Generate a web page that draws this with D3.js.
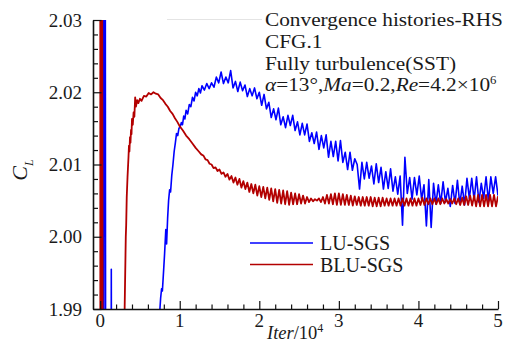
<!DOCTYPE html>
<html>
<head>
<meta charset="utf-8">
<script src="https://cdn.jsdelivr.net/npm/d3@7"></script>
<style>
  body { margin: 0; background: #fff; }
  text { font-family: "Liberation Serif", "Times New Roman", serif; fill: #1a1a1a; }
</style>
</head>
<body>
<div id="chart"></div>
<script>
// Data: [Iter/10^4, CL]
var xTicks = [0, 1, 2, 3, 4, 5];
var yTicks = [1.99, 2.00, 2.01, 2.02, 2.03];
var seriesNames = ["LU-SGS", "BLU-SGS"];

var luSgs = [
  [0.03,2.10],[0.04,1.95],[0.06,2.10],[0.07,1.96],[0.135,1.96],[0.14,1.9955],[0.145,1.96],[0.74,1.96],
  [0.748,1.9895],[0.76,1.9915],[0.772,1.9928],[0.782,1.9925],[0.80,1.9958],[0.81,1.9977],[0.825,2.0010],
  [0.835,1.9990],[0.848,2.0026],[0.86,2.0050],[0.873,2.0065],[0.885,2.0062],[0.90,2.0085],[0.915,2.0100],
  [0.93,2.0118],[0.945,2.0130],[0.96,2.0143],[0.975,2.0140],[0.99,2.0150],[1.005,2.0152],[1.02,2.0158],
  [1.035,2.0155],[1.05,2.0167],[1.065,2.0163],[1.08,2.0175],[1.10,2.0170],[1.12,2.0183],[1.14,2.0180],
  [1.16,2.0193],[1.18,2.0188],[1.20,2.0200],[1.22,2.0195],[1.24,2.0205],[1.26,2.0199],
  [1.28,2.0209],[1.31,2.0203],[1.34,2.0212],[1.37,2.0205],[1.40,2.0213],[1.43,2.0207],[1.46,2.0221],
  [1.49,2.0213],[1.52,2.0228],[1.55,2.0212],[1.58,2.0221],[1.61,2.0213],[1.64,2.0230],[1.67,2.0206],
  [1.70,2.0215],[1.73,2.0201],[1.76,2.0214],[1.79,2.0202],[1.82,2.0210],[1.85,2.0194],[1.88,2.0205],
  [1.91,2.0195],[1.94,2.0206],[1.97,2.0191],[2.00,2.0200],[2.03,2.0182],[2.06,2.0197],[2.09,2.0177],
  [2.12,2.0186],[2.15,2.0165],[2.18,2.0177],[2.21,2.0162],[2.24,2.0178],[2.27,2.0155],[2.30,2.0166],
  [2.33,2.0151],[2.36,2.0168],[2.39,2.0154],[2.42,2.0168],[2.45,2.0147],[2.48,2.0159],[2.51,2.0141],
  [2.54,2.0157],[2.57,2.0141],[2.60,2.0156],[2.63,2.0132],[2.66,2.0144],[2.69,2.0129],[2.72,2.0145],
  [2.75,2.0121],[2.78,2.0140],[2.81,2.0123],[2.84,2.0141],[2.87,2.0110],[2.90,2.0132],[2.93,2.0111],
  [2.96,2.0132],[2.99,2.0105],[3.02,2.0133],[3.05,2.0103],[3.08,2.0117],[3.11,2.0093],[3.14,2.0117],
  [3.17,2.0092],[3.20,2.0108],[3.23,2.0100],[3.26,2.0066],[3.29,2.0103],[3.32,2.0080],[3.35,2.0103],
  [3.38,2.0081],[3.41,2.0098],[3.44,2.0073],[3.47,2.0101],[3.50,2.0075],[3.53,2.0096],[3.56,2.0066],
  [3.59,2.0090],[3.62,2.0067],[3.65,2.0094],[3.68,2.0063],[3.71,2.0083],[3.74,2.0059],[3.77,2.0084],
  [3.80,2.0016],[3.83,2.0110],[3.86,2.0060],[3.89,2.0082],[3.92,2.0052],[3.95,2.0082],[3.98,2.0058],
  [4.01,2.0084],[4.04,2.0052],[4.07,2.0072],[4.10,2.0015],[4.13,2.0079],[4.16,2.0013],[4.19,2.0074],
  [4.22,2.0045],[4.25,2.0072],[4.28,2.0046],[4.31,2.0076],[4.34,2.0048],[4.37,2.0067],[4.40,2.0042],
  [4.43,2.0071],[4.46,2.0046],[4.49,2.0078],[4.52,2.0045],[4.55,2.0070],[4.58,2.0044],[4.61,2.0081],
  [4.64,2.0053],[4.67,2.0081],[4.70,2.0051],[4.73,2.0083],[4.76,2.0048],[4.79,2.0074],[4.82,2.0053],
  [4.85,2.0083],[4.88,2.0049],[4.91,2.0083],[4.94,2.0060],[4.97,2.0083],[5.00,2.0057]
];

var bluSgs = [
  [0,2.10],[0.003,1.95],[0.02,2.08],[0.03,1.9985],[0.032,1.96],[0.30,1.96],[0.307,1.9895],[0.322,2.0000],
  [0.327,2.0016],[0.334,2.0055],[0.344,2.0083],[0.356,2.0110],[0.362,2.0126],[0.368,2.0118],[0.375,2.0138],
  [0.381,2.0130],[0.388,2.0148],[0.394,2.0142],[0.40,2.0163],[0.41,2.0155],[0.42,2.0172],[0.43,2.0166],
  [0.44,2.0193],[0.45,2.0180],[0.465,2.0189],[0.48,2.0185],[0.50,2.0191],[0.52,2.0188],[0.55,2.0195],
  [0.58,2.0194],[0.61,2.0199],[0.64,2.0197],[0.67,2.0200],[0.70,2.0198],[0.73,2.0197],[0.76,2.0192],
  [0.79,2.0189],[0.82,2.0184],[0.85,2.0180],[0.88,2.0174],[0.91,2.0170],[0.94,2.0164],[0.97,2.0159],
  [1.00,2.0153],[1.04,2.0147],[1.08,2.0140],[1.12,2.0135],[1.16,2.0129],[1.20,2.0123],[1.24,2.0118],
  [1.27,2.0114],
  [1.300,2.0112],[1.325,2.0107],[1.350,2.0106],[1.375,2.0101],[1.400,2.0100],[1.425,2.0095],[1.450,2.0096],
  [1.475,2.0091],[1.500,2.0093],[1.525,2.0087],[1.550,2.0089],[1.575,2.0083],[1.600,2.0087],[1.625,2.0079],
  [1.650,2.0084],[1.675,2.0075],[1.700,2.0082],[1.725,2.0072],[1.750,2.0080],[1.775,2.0068],[1.800,2.0077],
  [1.825,2.0066],[1.850,2.0075],[1.875,2.0062],[1.900,2.0073],[1.925,2.0060],[1.950,2.0072],[1.975,2.0057],
  [2.000,2.0070],[2.025,2.0055],[2.050,2.0069],[2.075,2.0053],[2.100,2.0068],[2.125,2.0051],[2.150,2.0067],
  [2.175,2.0049],[2.200,2.0066],[2.225,2.0047],[2.250,2.0065],[2.275,2.0046],[2.300,2.0064],[2.325,2.0045],
  [2.350,2.0063],[2.375,2.0044],[2.400,2.0061],[2.425,2.0045],[2.450,2.0060],[2.475,2.0045],[2.500,2.0059],
  [2.525,2.0046],[2.550,2.0057],[2.575,2.0046],[2.600,2.0055],[2.625,2.0048],[2.650,2.0053],[2.675,2.0049],
  [2.700,2.0052],[2.725,2.0050],[2.750,2.0053],[2.775,2.0048],[2.800,2.0055],[2.825,2.0046],[2.850,2.0058],
  [2.875,2.0046],[2.900,2.0059],[2.925,2.0045],[2.950,2.0060],[2.975,2.0044],[3.000,2.0060],[3.025,2.0044],
  [3.050,2.0059],[3.075,2.0044],[3.100,2.0058],[3.125,2.0044],[3.150,2.0057],[3.175,2.0043],[3.200,2.0056],
  [3.225,2.0044],[3.250,2.0055],[3.275,2.0043],[3.300,2.0055],[3.325,2.0043],[3.350,2.0055],[3.375,2.0043],
  [3.400,2.0055],[3.425,2.0042],[3.450,2.0054],[3.475,2.0042],[3.500,2.0054],[3.525,2.0042],[3.550,2.0054],
  [3.575,2.0043],[3.600,2.0053],[3.625,2.0043],[3.650,2.0053],[3.675,2.0043],[3.700,2.0053],[3.725,2.0043],
  [3.750,2.0053],[3.775,2.0043],[3.800,2.0053],[3.825,2.0043],[3.850,2.0053],[3.875,2.0043],[3.900,2.0053],
  [3.925,2.0043],[3.950,2.0053],[3.975,2.0043],[4.000,2.0053],[4.025,2.0044],[4.050,2.0054],[4.075,2.0044],
  [4.100,2.0053],[4.125,2.0045],[4.150,2.0053],[4.175,2.0045],[4.200,2.0053],[4.225,2.0045],[4.250,2.0053],
  [4.275,2.0045],[4.300,2.0053],[4.325,2.0046],[4.350,2.0052],[4.375,2.0046],[4.400,2.0052],[4.425,2.0046],
  [4.450,2.0053],[4.475,2.0045],[4.500,2.0053],[4.525,2.0044],[4.550,2.0054],[4.575,2.0044],[4.600,2.0056],
  [4.625,2.0044],[4.650,2.0057],[4.675,2.0043],[4.700,2.0057],[4.725,2.0042],[4.750,2.0058],[4.775,2.0042],
  [4.800,2.0058],[4.825,2.0042],[4.850,2.0058],[4.875,2.0042],[4.900,2.0058],[4.925,2.0042],[4.950,2.0058],
  [4.975,2.0042],[5.000,2.0056]
];

var margin = {top: 20, right: 16, bottom: 35, left: 93};
var width = 514 - margin.left - margin.right;
var height = 344 - margin.top - margin.bottom;

var svg = d3.select("#chart")
    .append("svg")
    .attr("width", 514)
    .attr("height", 344)
    .style("background", "#fff");

// faint box edge at the top of the figure
svg.append("line")
    .attr("x1", 167).attr("x2", 262).attr("y1", 19.5).attr("y2", 19.5)
    .attr("stroke", "#e4e4e4");

var g = svg.append("g")
    .attr("transform", "translate(" + margin.left + "," + margin.top + ")");

var x = d3.scaleLinear().domain([-0.09, 5]).range([0, width]);
var y = d3.scaleLinear().domain([1.99, 2.03]).range([height, 0]);

g.append("clipPath").attr("id", "plotClip")
  .append("rect").attr("x", 0).attr("y", 0).attr("width", width).attr("height", height);

var line = d3.line()
    .x(function(d) { return x(d[0]); })
    .y(function(d) { return y(d[1]); });

var colors = ["#0000ff", "#b30000"];
var series = [luSgs, bluSgs];

g.selectAll(".series")
    .data(series)
  .enter().append("path")
    .attr("class", "series")
    .attr("clip-path", "url(#plotClip)")
    .attr("d", line)
    .attr("fill", "none")
    .attr("stroke", function(d, i) { return colors[i]; })
    .attr("stroke-width", function(d, i) { return i == 0 ? 1.6 : 1.8; })
    .attr("stroke-linejoin", "round");

// minor ticks
var xMinor = d3.range(1, 25).map(function(i) { return i * 0.2; }).filter(function(v) { return Math.abs(v - Math.round(v)) > 1e-6; });
var yMinor = d3.range(1, 20).map(function(i) { return 1.99 + i * 0.002; }).filter(function(v, i) { return (i + 1) % 5 != 0; });

g.append("g")
    .attr("transform", "translate(0," + height + ")")
    .call(d3.axisBottom(x).tickValues(xMinor).tickSize(-4.5).tickFormat(""))
    .call(function(a) { a.select(".domain").remove(); });
g.append("g")
    .call(d3.axisLeft(y).tickValues(yMinor).tickSize(-5).tickFormat(""))
    .call(function(a) { a.select(".domain").remove(); });

// major axes (tick labels written below as plain serif text)
g.append("g")
    .attr("transform", "translate(0," + height + ")")
    .call(d3.axisBottom(x).tickValues(xTicks).tickFormat("")
      .tickSizeInner(-8).tickSizeOuter(0));
g.append("g")
    .call(d3.axisLeft(y).tickValues(yTicks).tickFormat("")
      .tickSizeInner(-8.5).tickSizeOuter(0));

g.selectAll(".tick line").attr("stroke", "#111").attr("stroke-width", 1.2);
g.selectAll(".domain").attr("stroke", "#111").attr("stroke-width", 1.6);

g.selectAll(".xLabel")
    .data(xTicks)
  .enter().append("text")
    .attr("class", "xLabel")
    .attr("x", function(d) { return x(d); })
    .attr("y", height + 18)
    .attr("text-anchor", "middle")
    .style("font-size", "19px")
    .text(d3.format("d"));

g.selectAll(".yLabel")
    .data(yTicks)
  .enter().append("text")
    .attr("class", "yLabel")
    .attr("x", -11)
    .attr("y", function(d) { return y(d) + 6.5; })
    .attr("text-anchor", "end")
    .style("font-size", "19px")
    .text(d3.format(".2f"));

// axis titles
var yTitle = svg.append("text")
    .attr("transform", "translate(27,170) rotate(-90)")
    .attr("text-anchor", "middle")
    .style("font-size", "22px")
    .style("font-style", "italic");
yTitle.append("tspan").text("C");
yTitle.append("tspan").attr("dy", 6).style("font-size", "12px").text("L");

var xTitle = svg.append("text")
    .attr("x", 267).attr("y", 339)
    .style("font-size", "18.5px");
xTitle.append("tspan").style("font-style", "italic").text("Iter");
xTitle.append("tspan").text("/10");
xTitle.append("tspan").attr("dy", -7).style("font-size", "12px").text("4");

// annotation
var note = svg.append("g").attr("transform", "translate(265,0) scale(1.11,1)");
var noteLines = ["Convergence histories-RHS", "CFG.1", "Fully turbulence(SST)"];
note.selectAll(".noteLine")
    .data(noteLines)
  .enter().append("text")
    .attr("class", "noteLine")
    .attr("x", 0)
    .attr("y", function(d, i) { return 26 + i * 22; })
    .style("font-size", "19.2px")
    .text(function(d) { return d; });
var cond = note.append("text").attr("x", 0).attr("y", 91).style("font-size", "19.2px");
cond.append("tspan").style("font-style", "italic").text("α");
cond.append("tspan").text("=13°,");
cond.append("tspan").style("font-style", "italic").text("Ma");
cond.append("tspan").text("=0.2,");
cond.append("tspan").style("font-style", "italic").text("Re");
cond.append("tspan").text("=4.2×10");
cond.append("tspan").attr("dy", -7).style("font-size", "11.5px").text("6");

// legend
var legend = svg.append("g").attr("transform", "translate(250,243)");
var item = legend.selectAll(".item")
    .data(seriesNames)
  .enter().append("g")
    .attr("class", "item")
    .attr("transform", function(d, i) { return "translate(0," + i * 21.5 + ")"; });
item.append("line")
    .attr("x1", 0).attr("x2", 63).attr("y1", 0).attr("y2", 0)
    .attr("stroke", function(d, i) { return colors[i]; })
    .attr("stroke-width", 1.6);
item.append("text")
    .attr("x", 70).attr("y", 7)
    .style("font-size", "20px")
    .text(function(d) { return d; });
</script>
</body>
</html>
